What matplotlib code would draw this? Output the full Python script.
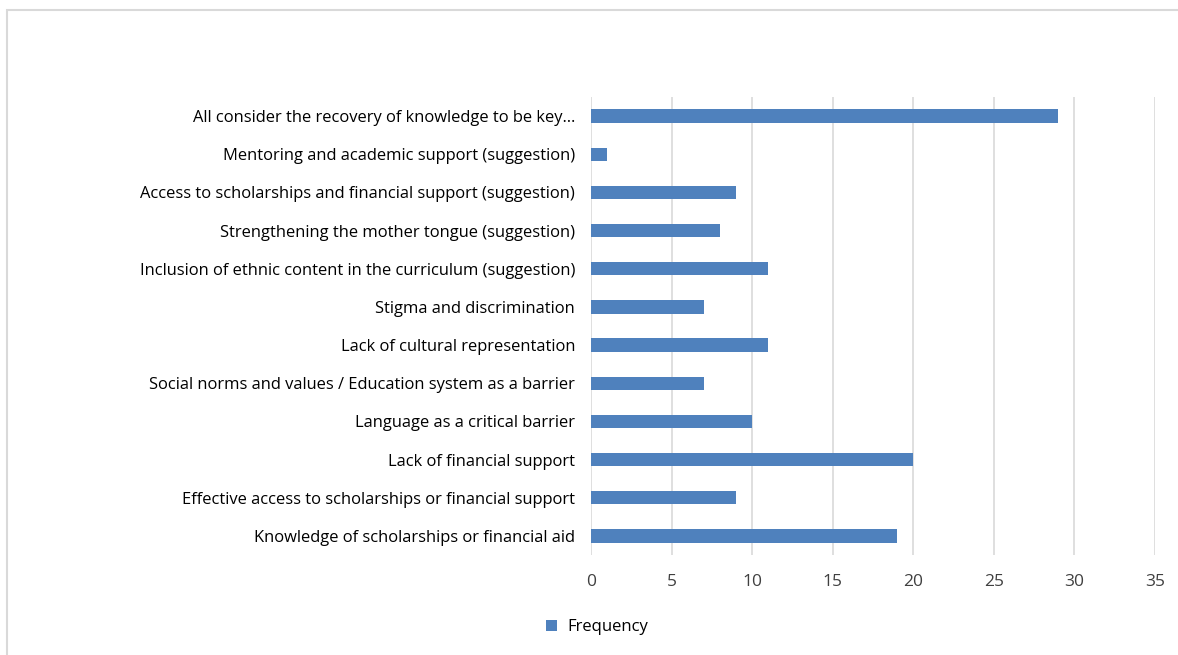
import matplotlib.pyplot as plt
from matplotlib.patches import Rectangle

categories = [
    'Knowledge of scholarships or financial aid',
    'Effective access to scholarships or financial support',
    'Lack of financial support',
    'Language as a critical barrier',
    'Social norms and values / Education system as a barrier',
    'Lack of cultural representation',
    'Stigma and discrimination',
    'Inclusion of ethnic content in the curriculum (suggestion)',
    'Strengthening the mother tongue (suggestion)',
    'Access to scholarships and financial support (suggestion)',
    'Mentoring and academic support (suggestion)',
    'All consider the recovery of knowledge to be key\u2026',
]
frequency = [19, 9, 20, 10, 7, 11, 7, 11, 8, 9, 1, 29]
xticks = [0, 5, 10, 15, 20, 25, 30, 35]

plt.rcParams['font.family'] = ['Open Sans', 'DejaVu Sans']
bar_color = '#4f81bd'

fig = plt.figure(figsize=(11.78, 6.55), dpi=100)
# outer chart border
fig.patches.append(Rectangle((7 / 1178, -0.01), 1.02, 1 - 10 / 655 + 0.01,
                             transform=fig.transFigure, fill=False,
                             edgecolor='#d9d9d9', linewidth=1.5))

ax = fig.add_axes([591 / 1178, 1 - 555 / 655, (1155 - 591) / 1178, (555 - 97) / 655])
ax.barh(range(len(categories)), frequency, height=0.35, color=bar_color, label='Frequency', zorder=3)
ax.set_xlim(0, 35)
ax.set_ylim(-0.5, len(categories) - 0.5)
ax.set_xticks(xticks)
ax.set_xticklabels([str(t) for t in xticks], fontsize=12.5, color='#404040')
ax.set_yticks(range(len(categories)))
ax.set_yticklabels(categories, fontsize=11.9, color='#000000')
ax.tick_params(axis='y', length=0, pad=11.5)
ax.tick_params(axis='x', length=0, pad=14)
ax.grid(axis='x', color='#d9d9d9', linewidth=1.2, zorder=0)
for s in ax.spines.values():
    s.set_visible(False)

fig.legend(loc='center', bbox_to_anchor=(597 / 1178, 1 - 627 / 655), frameon=False,
           fontsize=12, handlelength=0.65, handleheight=0.65, handletextpad=0.6)

fig.savefig('out.png', dpi=100)
